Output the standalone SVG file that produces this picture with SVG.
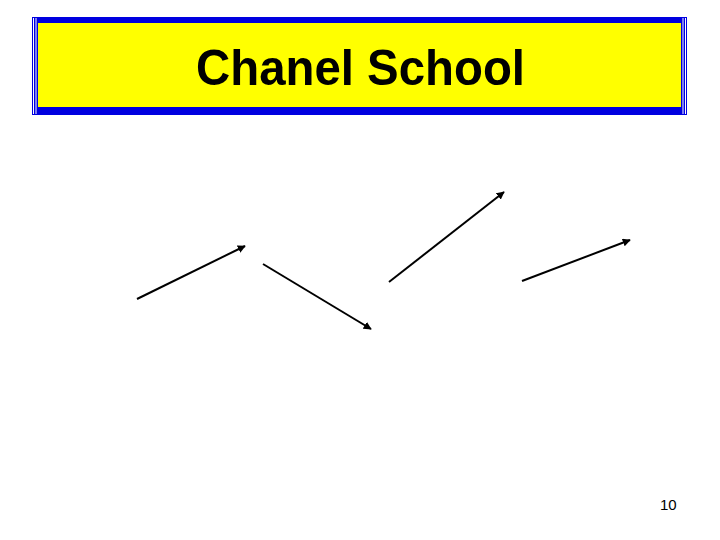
<svg xmlns="http://www.w3.org/2000/svg" width="720" height="540" viewBox="0 0 720 540">
  <style>
    .title { font-family: "Liberation Sans", Arial, sans-serif; font-weight: bold; font-size: 50px; fill: #000; }
    .pg { font-family: "Liberation Sans", Arial, sans-serif; font-size: 15px; fill: #000; }
    .arrow { stroke: #000; stroke-width: 2; fill: none; marker-end: url(#ah); }
    .wl { stroke: #fff; stroke-width: 1; }
  </style>
  <defs>
    <marker id="ah" viewBox="0 0 10 10" refX="9" refY="5" markerWidth="4" markerHeight="4" orient="auto" markerUnits="strokeWidth">
      <path d="M0,0 L10,5 L0,10 z" fill="#000"/>
    </marker>
  </defs>
  <rect width="720" height="540" fill="#fff"/>
  <g id="banner">
    <rect x="32" y="17" width="655" height="98" fill="#0000e0"/>
    <rect x="38" y="23" width="643" height="84" fill="#ffff00"/>
    <line class="wl" x1="33.5" y1="18" x2="33.5" y2="114"/>
    <line class="wl" x1="36" y1="18" x2="36" y2="114"/>
    <line class="wl" x1="683" y1="18" x2="683" y2="114"/>
    <line class="wl" x1="685.5" y1="18" x2="685.5" y2="114"/>
    <text class="title" x="196" y="85" textLength="329" lengthAdjust="spacingAndGlyphs">Chanel School</text>
  </g>
  <g id="connectors">
    <line class="arrow" x1="137" y1="299" x2="245" y2="246"/>
    <line class="arrow" x1="263" y1="264" x2="371" y2="329"/>
    <line class="arrow" x1="389" y1="282" x2="504" y2="192"/>
    <line class="arrow" x1="522" y1="281" x2="630" y2="240"/>
  </g>
  <g id="page">
    <text class="pg" x="660" y="510">10</text>
  </g>
</svg>
